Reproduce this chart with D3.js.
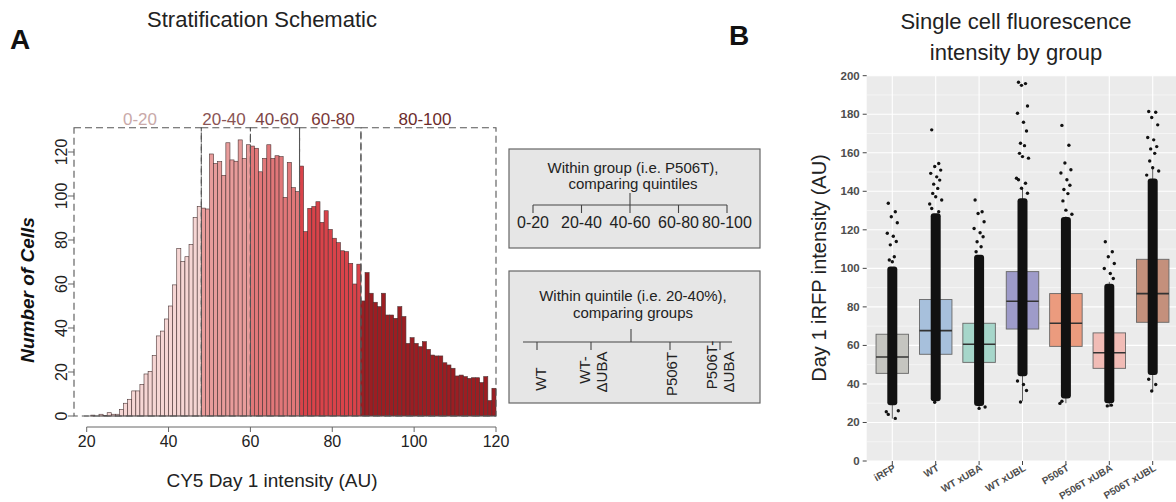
<!DOCTYPE html>
<meta charset="utf-8">
<head>
<script src="https://d3js.org/d3.v7.min.js"></script>
<style>
  body { margin: 0; background: #fff; }
  text { font-family: "Liberation Sans", Arial, sans-serif; }
</style>
</head>
<body>
<svg id="fig" width="1176" height="502"></svg>
<script>

// ---- Panel A data: histogram of CY5 day 1 intensity (1-unit bins starting at 21) ----
var binStarts = d3.range(21, 120);
var binCounts = [0.4, 0, 0.8, 0.3, 1.5, 0.8, 0.8, 3, 5.8, 7.6,
  11.4, 11.4, 14.4, 19.1, 20.3, 27.5, 36.4, 38.6, 44.1, 50,
  59.6, 76.2, 70.2, 72.4, 78, 90.2, 95.3, 94.5, 94.1, 119.1,
  114.8, 115.6, 109.4, 124.2, 116.4, 115.8, 125.5, 117.1, 123.3, 122.7,
  121.7, 111, 117.1, 123.3, 117.1, 118.3, 117.9, 99.4, 115.3, 103.8,
  102, 113.6, 83.8, 94.4, 95.2, 97.4, 88, 93.3, 84.8, 80.8,
  78.8, 75.1, 74.7, 69.4, 60, 69, 52.3, 65.2, 55.8, 51.7,
  49.7, 55.8, 45.9, 45.9, 44.4, 49.7, 45.2, 33, 35.6, 33,
  31.5, 33.8, 30.3, 27.7, 27.3, 27.3, 24.2, 23.2, 21.7, 18.2,
  18.6, 17.9, 17.1, 17.4, 17.4, 15.2, 17.9, 7, 12.6];

var quintileLabels = ["0-20", "20-40", "40-60", "60-80", "80-100"];
var quintileBreaks = [17, 48, 60, 72, 87, 120];
var quintileFill = ["#f6d6d4", "#e89c9b", "#e17779", "#d9434a", "#9c1d22"];
var quintileText = ["#c9a9a9", "#8a5454", "#7c4545", "#7a3737", "#6b2b2b"];

var histXTicks = [20, 40, 60, 80, 100, 120];
var histYTicks = [0, 20, 40, 60, 80, 100, 120];

// ---- Panel B data: boxplots of day 1 iRFP intensity ----
var groups = ["iRFP", "WT", "WT xUBA", "WT xUBL", "P506T", "P506T xUBA", "P506T xUBL"];
var q1 = [45.5, 55.4, 51.2, 68.5, 59.5, 48.1, 72];
var medians = [54, 67.7, 60.6, 82.9, 71.5, 56.2, 86.9];
var q3 = [65.8, 83.8, 71.5, 98.3, 86.9, 66.5, 104.7];
var whiskerLo = [22, 31, 27, 31, 30, 28, 36];
var whiskerHi = [96, 126, 101, 142, 127, 93, 153];
var denseLo = [29, 31, 28.6, 44, 32.5, 30, 44.6];
var denseHi = [101, 128.6, 107, 136.4, 126.7, 92, 146.7];
var sparsePoints = [
  [133.8, 129.4, 126.8, 123.7, 118.2, 116.7, 113.9, 112.2, 106, 104.3, 103.4, 26.1, 25.6, 24.2, 22.1],
  [171.9, 154.4, 152.9, 151, 149.3, 147.5, 145.8, 143.7, 141.5, 138.9, 137.2, 135.5, 133.4, 131.1, 129.4, 30.5],
  [135.5, 129.4, 128.5, 124.2, 120.7, 118.5, 116.4, 113.8, 111.2, 108.6, 27.3, 28],
  [196.6, 195.9, 195, 184.3, 180.5, 175.8, 171.3, 164.9, 163.7, 159.7, 158, 157.2, 146.8, 146, 144.2, 141.6, 139, 41.5, 39.7, 36.6, 30.6],
  [174.2, 163.9, 154.7, 151.2, 149.5, 146, 143.1, 140.9, 138.8, 135, 130.2, 128.1, 29.9, 31],
  [113.8, 108.6, 106, 102.5, 99.9, 97.3, 94.7, 28.6, 29],
  [181.4, 181, 178.3, 174.5, 167.9, 166.7, 163.2, 162, 159.7, 155.7, 152.2, 150.5, 148.4, 42.4, 39.7, 36.3]
];
var groupFill = ["#c5c5c0", "#a7c0dc", "#a6d6ca", "#9e9bc9", "#eb9b7e", "#f1bcb6", "#c4907c"];
var boxYTicks = d3.range(0, 201, 20);
var boxYMinor = d3.range(10, 200, 20);

var svg = d3.select("#fig");
svg.append("rect").attr("width", 1176).attr("height", 502).attr("fill", "#fff");

// ================= Panel A =================
var x = d3.scaleLinear().domain([20, 120]).range([86.7, 496]);
var y = d3.scaleLinear().domain([0, 120]).range([416, 152]);

svg.append("text").attr("x", 262).attr("y", 27).attr("text-anchor", "middle")
  .attr("font-size", 22).attr("fill", "#222").text("Stratification Schematic");
svg.append("text").attr("x", 10).attr("y", 49).attr("font-size", 28)
  .attr("font-weight", "bold").attr("fill", "#111").text("A");

function quintileOf(v) {
  for (var i = 0; i < 5; i++) { if (v < quintileBreaks[i + 1]) return i; }
  return 4;
}

// bars
svg.append("g").selectAll("rect")
  .data(binStarts)
  .enter().append("rect")
  .attr("x", function(d) { return x(d); })
  .attr("width", function(d) { return x(d + 1) - x(d); })
  .attr("y", function(d, i) { return y(binCounts[i]); })
  .attr("height", function(d, i) { return y(0) - y(binCounts[i]); })
  .attr("fill", function(d) { return quintileFill[quintileOf(d)]; })
  .attr("stroke", "#4a3434")
  .attr("stroke-width", 0.6);

// baseline under bars
svg.append("line").attr("x1", 84).attr("x2", 496).attr("y1", y(0)).attr("y2", y(0))
  .attr("stroke", "#555").attr("stroke-width", 0.8);

// dashed quintile boxes
var boxTop = y(131);
svg.append("g").selectAll("rect")
  .data(quintileLabels)
  .enter().append("rect")
  .attr("x", function(d, i) { return i == 0 ? 74 : x(quintileBreaks[i]); })
  .attr("width", function(d, i) { return x(quintileBreaks[i + 1]) - (i == 0 ? 74 : x(quintileBreaks[i])); })
  .attr("y", boxTop)
  .attr("height", y(0) - boxTop)
  .attr("fill", "none")
  .attr("stroke", "#555")
  .attr("stroke-width", 1.1)
  .attr("stroke-dasharray", "7,4");

// quintile labels
var labelX = [140, 224, 277, 333, 425];
svg.append("g").selectAll("text")
  .data(quintileLabels)
  .enter().append("text")
  .attr("x", function(d, i) { return labelX[i]; })
  .attr("y", 125)
  .attr("text-anchor", "middle")
  .attr("font-size", 17)
  .attr("fill", function(d, i) { return quintileText[i]; })
  .text(function(d) { return d; });

// x axis
var xa = svg.append("g");
xa.append("line").attr("x1", x(20)).attr("x2", x(120)).attr("y1", 427).attr("y2", 427)
  .attr("stroke", "#666").attr("stroke-width", 1);
xa.selectAll(".tk").data(histXTicks).enter().append("line")
  .attr("x1", function(d) { return x(d); }).attr("x2", function(d) { return x(d); })
  .attr("y1", 427).attr("y2", 432).attr("stroke", "#666");
xa.selectAll("text").data(histXTicks).enter().append("text")
  .attr("x", function(d) { return x(d); }).attr("y", 447)
  .attr("text-anchor", "middle").attr("font-size", 16).attr("fill", "#222")
  .text(function(d) { return d; });
svg.append("text").attr("x", 272).attr("y", 487).attr("text-anchor", "middle")
  .attr("font-size", 19).attr("fill", "#222").text("CY5 Day 1 intensity (AU)");

// y axis
var ya = svg.append("g");
ya.selectAll("line").data(histYTicks).enter().append("line")
  .attr("x1", 68).attr("x2", 74)
  .attr("y1", function(d) { return y(d); }).attr("y2", function(d) { return y(d); })
  .attr("stroke", "#666");
ya.selectAll("text").data(histYTicks).enter().append("text")
  .attr("transform", function(d) { return "translate(67," + y(d) + ") rotate(-90)"; })
  .attr("text-anchor", "middle").attr("font-size", 16).attr("fill", "#222")
  .text(function(d) { return d; });
svg.append("text").attr("transform", "translate(34,290) rotate(-90)")
  .attr("text-anchor", "middle").attr("font-size", 19).attr("font-weight", "bold")
  .attr("font-style", "italic").attr("fill", "#111").text("Number of Cells");

// ---- schematic boxes ----
function schemBox(y0, h) {
  svg.append("rect").attr("x", 509).attr("y", y0).attr("width", 251).attr("height", h)
    .attr("fill", "#e6e6e6").attr("stroke", "#666").attr("stroke-width", 1.2);
}
schemBox(149, 99);
schemBox(271, 132);

var sText = function(xx, yy, t, fs) {
  return svg.append("text").attr("x", xx).attr("y", yy).attr("text-anchor", "middle")
    .attr("font-size", fs || 15).attr("fill", "#222").text(t);
};
sText(633, 173, "Within group (i.e. P506T),");
sText(633, 189, "comparing quintiles");

var qx = d3.scalePoint().domain(quintileLabels).range([533, 727]);
var tree = svg.append("g").attr("stroke", "#444").attr("stroke-width", 1.1);
tree.append("line").attr("x1", qx("40-60")).attr("x2", qx("40-60")).attr("y1", 193).attr("y2", 205);
tree.append("line").attr("x1", 533).attr("x2", 727).attr("y1", 205).attr("y2", 205);
quintileLabels.forEach(function(q) {
  tree.append("line").attr("x1", qx(q)).attr("x2", qx(q)).attr("y1", 205).attr("y2", 213);
  sText(qx(q), 228, q, 16);
});

sText(633, 301, "Within quintile (i.e. 20-40%),");
sText(633, 318, "comparing groups");
tree.append("line").attr("x1", 631).attr("x2", 631).attr("y1", 329).attr("y2", 342);
tree.append("line").attr("x1", 523).attr("x2", 732).attr("y1", 342).attr("y2", 342);
var groupTicks = [537, 591, 670, 720];
groupTicks.forEach(function(gx) {
  tree.append("line").attr("x1", gx).attr("x2", gx).attr("y1", 342).attr("y2", 350);
});
var rotLabels = [
  { t: "WT", x: 546, y: 379 },
  { t: "WT-", x: 590, y: 370 },
  { t: "\u0394UBA", x: 607, y: 372 },
  { t: "P506T", x: 677, y: 374 },
  { t: "P506T-", x: 717, y: 365 },
  { t: "\u0394UBA", x: 734, y: 372 }
];
rotLabels.forEach(function(r) {
  svg.append("text").attr("transform", "translate(" + r.x + "," + r.y + ") rotate(-90)")
    .attr("text-anchor", "middle").attr("font-size", 15).attr("fill", "#222").text(r.t);
});

// ================= Panel B =================
var pLeft = 866.7, pRight = 1176, pTop = 75.7, pBottom = 461;
var yb = d3.scaleLinear().domain([0, 200]).range([pBottom, pTop]);
var xb = d3.scalePoint().domain(groups).range([892.3, 1152.7]);
var bw = 32.5;

svg.append("text").attr("x", 729).attr("y", 45).attr("font-size", 28)
  .attr("font-weight", "bold").attr("fill", "#111").text("B");
svg.append("text").attr("x", 1016).attr("y", 29).attr("text-anchor", "middle")
  .attr("font-size", 22).attr("fill", "#222").text("Single cell fluorescence");
svg.append("text").attr("x", 1016).attr("y", 60).attr("text-anchor", "middle")
  .attr("font-size", 22).attr("fill", "#222").text("intensity by group");

svg.append("rect").attr("x", pLeft).attr("y", pTop).attr("width", pRight - pLeft)
  .attr("height", pBottom - pTop).attr("fill", "#ebebeb");
var grid = svg.append("g");
grid.selectAll(".mn").data(boxYMinor).enter().append("line")
  .attr("x1", pLeft).attr("x2", pRight)
  .attr("y1", function(d) { return yb(d); }).attr("y2", function(d) { return yb(d); })
  .attr("stroke", "#fff").attr("stroke-width", 0.5);
grid.selectAll(".mj").data(boxYTicks).enter().append("line")
  .attr("x1", pLeft).attr("x2", pRight)
  .attr("y1", function(d) { return yb(d); }).attr("y2", function(d) { return yb(d); })
  .attr("stroke", "#fff").attr("stroke-width", 1.1);
grid.selectAll(".vx").data(groups).enter().append("line")
  .attr("x1", function(d) { return xb(d); }).attr("x2", function(d) { return xb(d); })
  .attr("y1", pTop).attr("y2", pBottom)
  .attr("stroke", "#fff").attr("stroke-width", 1.1);

// whiskers
svg.append("g").selectAll("line").data(groups).enter().append("line")
  .attr("x1", function(d) { return xb(d); }).attr("x2", function(d) { return xb(d); })
  .attr("y1", function(d, i) { return yb(whiskerLo[i]); })
  .attr("y2", function(d, i) { return yb(whiskerHi[i]); })
  .attr("stroke", "#333").attr("stroke-width", 0.8);

// boxes
var boxes = svg.append("g");
boxes.selectAll("rect").data(groups).enter().append("rect")
  .attr("x", function(d) { return xb(d) - bw / 2; })
  .attr("width", bw)
  .attr("y", function(d, i) { return yb(q3[i]); })
  .attr("height", function(d, i) { return yb(q1[i]) - yb(q3[i]); })
  .attr("fill", function(d, i) { return groupFill[i]; })
  .attr("stroke", "#666").attr("stroke-width", 0.9);
boxes.selectAll("line").data(groups).enter().append("line")
  .attr("x1", function(d) { return xb(d) - bw / 2; })
  .attr("x2", function(d) { return xb(d) + bw / 2; })
  .attr("y1", function(d, i) { return yb(medians[i]); })
  .attr("y2", function(d, i) { return yb(medians[i]); })
  .attr("stroke", "#333").attr("stroke-width", 1.6);

// dense jittered cloud (solid band) and sparse points
var pts = svg.append("g").attr("fill", "#111");
pts.selectAll("rect").data(groups).enter().append("rect")
  .attr("x", function(d) { return xb(d) - 5; })
  .attr("width", 10)
  .attr("y", function(d, i) { return yb(denseHi[i]); })
  .attr("height", function(d, i) { return yb(denseLo[i]) - yb(denseHi[i]); })
  .attr("rx", 3);
var jit = [-4, 3, -1, 5, -5, 1, 4, -2, 2, -3, 0, 6, -6];
groups.forEach(function(g, gi) {
  pts.selectAll(".p" + gi).data(sparsePoints[gi]).enter().append("circle")
    .attr("cx", function(d, i) { return xb(g) + jit[i % jit.length]; })
    .attr("cy", function(d) { return yb(d); })
    .attr("r", 1.7);
});

// axes panel B
var yaxB = svg.append("g");
yaxB.selectAll("line").data(boxYTicks).enter().append("line")
  .attr("x1", pLeft - 4).attr("x2", pLeft)
  .attr("y1", function(d) { return yb(d); }).attr("y2", function(d) { return yb(d); })
  .attr("stroke", "#444");
yaxB.selectAll("text").data(boxYTicks).enter().append("text")
  .attr("x", pLeft - 7).attr("y", function(d) { return yb(d) + 4; })
  .attr("text-anchor", "end").attr("font-size", 11.5).attr("font-weight", "bold")
  .attr("fill", "#4d4d4d").text(function(d) { return d; });
var xaxB = svg.append("g");
xaxB.selectAll("line").data(groups).enter().append("line")
  .attr("x1", function(d) { return xb(d); }).attr("x2", function(d) { return xb(d); })
  .attr("y1", pBottom).attr("y2", pBottom + 4).attr("stroke", "#444");
xaxB.selectAll("text").data(groups).enter().append("text")
  .attr("transform", function(d) { return "translate(" + (xb(d) + 4) + "," + (pBottom + 9) + ") rotate(-30)"; })
  .attr("text-anchor", "end").attr("font-size", 10).attr("font-weight", "bold")
  .attr("fill", "#4d4d4d").text(function(d) { return d; });
svg.append("text").attr("transform", "translate(826,268) rotate(-90)")
  .attr("text-anchor", "middle").attr("font-size", 20).attr("fill", "#222")
  .text("Day 1 iRFP intensity (AU)");

</script>
</body>
